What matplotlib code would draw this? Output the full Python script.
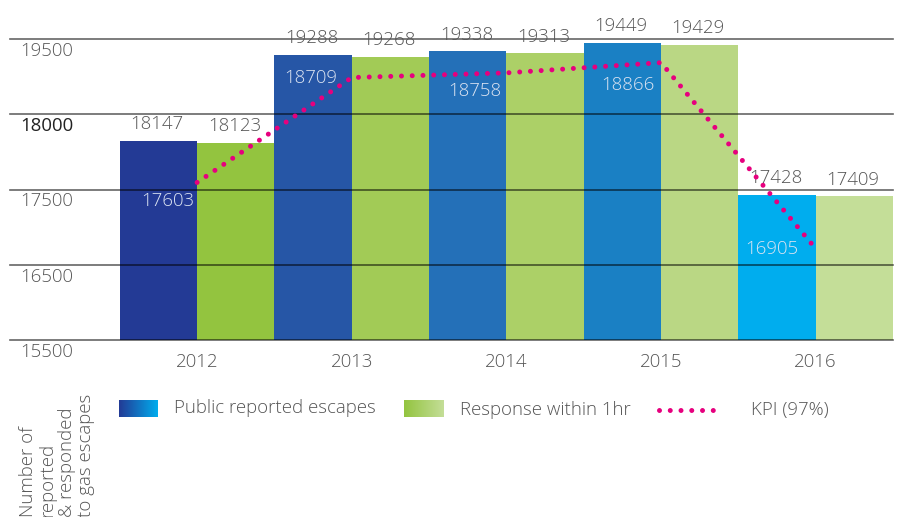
import numpy as np
import matplotlib
matplotlib.use("Agg")
import matplotlib.pyplot as plt
from matplotlib.colors import LinearSegmentedColormap
from matplotlib.transforms import blended_transform_factory, offset_copy

plt.rcParams['font.family'] = ['Open Sans', 'DejaVu Sans']

# ---------------- data ----------------
years = ["2012", "2013", "2014", "2015", "2016"]
reported = [18147, 19288, 19338, 19449, 17428]
responded = [18123, 19268, 19313, 19429, 17409]
kpi = [17603, 18709, 18758, 18866, 16905]
ytick_values = [15500, 16500, 17500, 18500, 19500]
ytick_labels = ["15500", "16500", "17500", "18000", "19500"]
series_labels = ["Public reported escapes", "Response within 1hr", "KPI (97%)"]
axis_title = "Number of\nreported\n& responded\nto gas escapes"

# ---------------- style ----------------
blue_colors = ["#233A95", "#2656A6", "#2470B8", "#1A80C4", "#00ADEE"]
green_colors = ["#93C43F", "#A2CB56", "#ACD067", "#BAD784", "#C4DE98"]
kpi_color = "#E6007E"
text_gray = "#555555"
kpi_label_color = "#DCE4F2"
kpi_label_dx = [9, -2, 7, 6, -5]     # pixel offsets of KPI labels
kpi_label_dy = [-19, 0, -18, -22, 0]
FS = 13.4

W, H = 899, 517
fig = plt.figure(figsize=(W / 100, H / 100), dpi=100)

ax_left, ax_right, ax_top, ax_bottom = 10, 893, 39.2, 340
ax = fig.add_axes([ax_left / W, 1 - ax_bottom / H,
                   (ax_right - ax_left) / W, (ax_bottom - ax_top) / H])
x = np.arange(len(years))
bw = 0.5
ax.bar(x - bw / 2, reported, width=bw, color=blue_colors, zorder=1, linewidth=0)
ax.bar(x + bw / 2, responded, width=bw, color=green_colors, zorder=1, linewidth=0)
ax.set_ylim(15500, 19500)
ax.set_xlim(-1.21, 4.5)
for s in ax.spines.values():
    s.set_visible(False)
ax.set_xticks([])
ax.set_yticks([])

# gridlines on top of bars
for v in ytick_values:
    ax.axhline(v, color="black", alpha=0.6, lw=1.2, zorder=3, clip_on=False)

# y labels (just below gridlines)
trans = blended_transform_factory(fig.transFigure, ax.transData)
for v, lab in zip(ytick_values, ytick_labels):
    bold = lab == "18000"
    t = offset_copy(trans, fig=fig, x=0, y=-8.5, units='points')
    fig.text(20 / W, v, lab, transform=t, ha='left', va='center',
             fontsize=FS, color="#222222" if bold else text_gray,
             fontweight='normal' if bold else 'light')

# value labels above bars
for xi, r, g in zip(x, reported, responded):
    ax.annotate(str(r), (xi - bw / 2, r), xytext=(-1, 12), textcoords='offset points',
                ha='center', va='center', fontsize=FS, color=text_gray,
                fontweight='light', zorder=5, annotation_clip=False)
    ax.annotate(str(g), (xi + bw / 2, g), xytext=(-1, 12), textcoords='offset points',
                ha='center', va='center', fontsize=FS, color=text_gray,
                fontweight='light', zorder=5, annotation_clip=False)

# year labels
for xi, yr in zip(x, years):
    ax.annotate(yr, (xi, 15500), xytext=(0, -16), textcoords='offset points',
                ha='center', va='center', fontsize=FS, color=text_gray,
                fontweight='light', annotation_clip=False)

# KPI on secondary scale
ax2 = ax.twinx()
ax2.set_ylim(15942, 19113)
ax2.set_xlim(ax.get_xlim())
for s in ax2.spines.values():
    s.set_visible(False)
ax2.set_yticks([])
dot_lw = 3.6
dot_style = (0, (0.001, 2.15))
ax2.plot(x, kpi, color=kpi_color, lw=dot_lw, linestyle=dot_style,
         dash_capstyle='round', zorder=4)
for xi, k, dx, dy in zip(x, kpi, kpi_label_dx, kpi_label_dy):
    ax2.annotate(str(k), (xi - bw / 2, k), xytext=(dx * 0.72, dy * 0.72),
                 textcoords='offset points', ha='center', va='center',
                 fontsize=FS, color=kpi_label_color, fontweight='light',
                 annotation_clip=False)

# ---------------- legend (pixel layout) ----------------
lg = fig.add_axes([0, 0, 1, 1], zorder=-1)
lg.set_xlim(0, W)
lg.set_ylim(H, 0)
lg.axis('off')
grad = np.linspace(0, 1, 256).reshape(1, -1)
cm_blue = LinearSegmentedColormap.from_list("b", [blue_colors[0], blue_colors[-1]])
cm_green = LinearSegmentedColormap.from_list("g", [green_colors[0], green_colors[-1]])
lg.imshow(grad, cmap=cm_blue, extent=(119, 158, 417, 400), aspect='auto')
lg.imshow(grad, cmap=cm_green, extent=(404, 444, 417, 400), aspect='auto')
lg.set_xlim(0, W)
lg.set_ylim(H, 0)
lg.text(174, 408, series_labels[0], fontsize=FS, color=text_gray,
        fontweight='light', va='center', ha='left')
lg.text(460, 410, series_labels[1], fontsize=FS, color=text_gray,
        fontweight='light', va='center', ha='left')
lg.plot([659, 717], [410, 410], color=kpi_color, lw=dot_lw, linestyle=dot_style,
        dash_capstyle='round')
lg.text(751, 410, series_labels[2], fontsize=FS, color=text_gray,
        fontweight='light', va='center', ha='left')

fig.text(19 / W, 0 / H, axis_title, rotation=90, ha='left', va='bottom',
         multialignment='left', fontsize=FS, color=text_gray,
         fontweight='light', linespacing=1.1)

fig.savefig("out.png", dpi=100)
